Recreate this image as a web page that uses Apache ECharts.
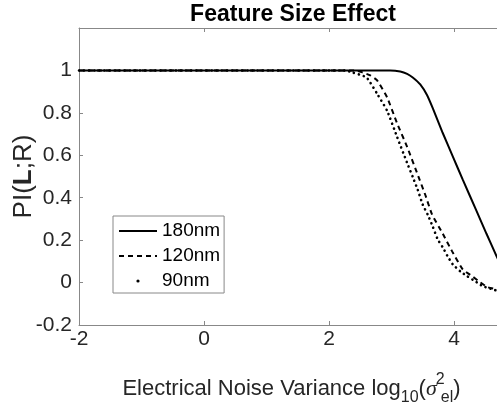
<!DOCTYPE html>
<html>
<head>
<meta charset="utf-8">
<script src="https://cdn.jsdelivr.net/npm/echarts@6/dist/echarts.min.js"></script>
<style>html,body{margin:0;padding:0;background:#fff}#c{width:497px;height:408px}</style>
</head>
<body>
<div id="c"></div>
<script>
// ---- data ----
const seriesNames = ['180nm', '120nm', '90nm'];
const x180 = [-2, 2.98, 3.14, 3.25, 3.34, 3.46, 3.57, 3.66, 3.82, 3.98, 4.14, 4.36, 4.52, 4.68, 4.72];
const y180 = [1, 1.0, 0.995, 0.984, 0.967, 0.934, 0.883, 0.822, 0.705, 0.595, 0.485, 0.338, 0.23, 0.125, 0.1];
const x120 = [-2, 2.42, 2.54, 2.66, 2.77, 2.93, 3.09, 3.25, 3.42, 3.54, 3.65, 3.81, 3.97, 4.14, 4.29, 4.42, 4.54, 4.67, 4.72];
const y120 = [1, 1.0, 0.99, 0.977, 0.953, 0.873, 0.75, 0.64, 0.508, 0.414, 0.32, 0.236, 0.147, 0.062, 0.03, 0.001, -0.022, -0.031, -0.034];
const x90 = [-2, 2.26, 2.38, 2.6, 2.77, 2.93, 3.09, 3.25, 3.34, 3.42, 3.5, 3.58, 3.66, 3.74, 3.82, 3.9, 3.98, 4.1, 4.21, 4.34, 4.46, 4.61, 4.72];
const y90 = [1, 1.0, 0.99, 0.967, 0.89, 0.81, 0.686, 0.564, 0.498, 0.437, 0.367, 0.32, 0.264, 0.203, 0.166, 0.123, 0.086, 0.053, 0.03, 0.006, -0.017, -0.031, -0.042];
const xTicks = [-2, 0, 2, 4];
const yTicks = [-0.2, 0, 0.2, 0.4, 0.6, 0.8, 1];

function pairs(xs, ys) { return xs.map((x, i) => [x, ys[i]]); }

const AXIS = '#888888';
const TXT = '#262626';
const FONT = 'Liberation Sans, Arial, sans-serif';
const chart = echarts.init(document.getElementById('c'), null, {renderer: 'canvas'});
chart.setOption({
  animation: false,
  backgroundColor: '#ffffff',
  title: {
    text: 'Feature Size Effect',
    left: 288, textAlign: 'center', top: -2,
    textStyle: {fontFamily: FONT, fontSize: 23, fontWeight: 'bold', color: '#000'}
  },
  grid: {left: 79, top: 28, right: -7, bottom: 83, containLabel: false, outerBoundsMode: 'none'},
  legend: {
    orient: 'vertical', left: 113, top: 216,
    borderColor: AXIS, borderWidth: 1, backgroundColor: '#fff',
    padding: [5, 4, 2, 5],
    itemWidth: 38, itemHeight: 4, itemGap: 5,
    textStyle: {fontFamily: FONT, fontSize: 19, color: '#000', lineHeight: 20},
    data: [
      {name: '180nm', itemStyle: {color: 'rgba(0,0,0,0)', borderWidth: 0}, lineStyle: {width: 2}},
      {name: '120nm', itemStyle: {color: 'rgba(0,0,0,0)', borderWidth: 0}, lineStyle: {width: 2}},
      {name: '90nm', itemStyle: {color: '#000', borderWidth: 0}, lineStyle: {width: 0, opacity: 0}}
    ]
  },
  xAxis: [{
    type: 'value', min: -2, max: 4.8, interval: 2,
    axisLine: {show: true, onZero: false, lineStyle: {color: AXIS, width: 1}},
    axisTick: {show: true, inside: true, length: 4, lineStyle: {color: AXIS}},
    splitLine: {show: false},
    axisLabel: {margin: 4, color: TXT, fontSize: 21, fontFamily: FONT,
      formatter: v => xTicks.indexOf(Math.round(v)) >= 0 ? String(Math.round(v)) : ''},
    name: '{m|Electrical Noise Variance log}{sub|10}{m|(}{sg|σ}{sup|2}{sub2|el}{m|)}',
    nameLocation: 'middle', nameGap: 47, nameMoveOverlap: false,
    nameTextStyle: {
      color: TXT, fontFamily: FONT,
      rich: {
        m: {fontSize: 22, color: TXT, lineHeight: 34, verticalAlign: 'middle', fontFamily: FONT},
        sg: {fontSize: 22, color: TXT, lineHeight: 34, fontStyle: 'italic', verticalAlign: 'middle', fontFamily: 'Liberation Serif, Times New Roman, serif'},
        sub: {fontSize: 16, color: TXT, lineHeight: 15, verticalAlign: 'bottom', fontFamily: FONT},
        sub2: {fontSize: 16, color: TXT, lineHeight: 15, verticalAlign: 'bottom', fontFamily: FONT},
        sup: {fontSize: 16, color: TXT, lineHeight: 15, verticalAlign: 'top', width: 1, align: 'left', padding: [0, 0, 0, 3], fontFamily: FONT}
      }
    }
  }, {
    type: 'value', min: -2, max: 4.8, interval: 2, position: 'top',
    axisLine: {show: true, onZero: false, lineStyle: {color: AXIS, width: 1}},
    axisTick: {show: true, inside: true, length: 4, lineStyle: {color: AXIS}},
    axisLabel: {show: false}, splitLine: {show: false}
  }],
  yAxis: [{
    type: 'value', min: -0.2, max: 1.2, interval: 0.2,
    axisLine: {show: true, onZero: false, lineStyle: {color: AXIS, width: 1}},
    axisTick: {show: true, inside: true, length: 4, lineStyle: {color: AXIS}},
    splitLine: {show: false},
    axisLabel: {margin: 7, color: TXT, fontSize: 21, fontFamily: FONT,
      formatter: v => {
        const r = Math.round(v * 10) / 10;
        return yTicks.some(t => Math.abs(t - r) < 1e-6) ? String(r) : '';
      }},
    name: '{m|PI(}{b|L}{m|;R)}',
    nameLocation: 'middle', nameRotate: 90, nameGap: 42, nameMoveOverlap: false,
    nameTextStyle: {
      rich: {
        m: {fontSize: 26, color: TXT, fontFamily: FONT},
        b: {fontSize: 26, color: TXT, fontWeight: 'bold', fontFamily: FONT}
      }
    }
  }],
  series: [
    {name: '180nm', type: 'line', data: pairs(x180, y180), smooth: 0.15, symbol: 'none', clip: true,
     lineStyle: {color: '#000', width: 2, type: 'solid'}, itemStyle: {color: '#000'}},
    {name: '120nm', type: 'line', data: pairs(x120, y120), smooth: 0.15, symbol: 'none', clip: true,
     lineStyle: {color: '#000', width: 2, type: [5, 4]}, itemStyle: {color: '#000'}},
    {name: '90nm', type: 'line', data: pairs(x90, y90), smooth: 0.15, symbol: 'none', clip: true,
     lineStyle: {color: '#000', width: 2.6, type: [0.1, 5], cap: 'round'}, itemStyle: {color: '#000'}}
  ]
});
</script>
</body>
</html>
